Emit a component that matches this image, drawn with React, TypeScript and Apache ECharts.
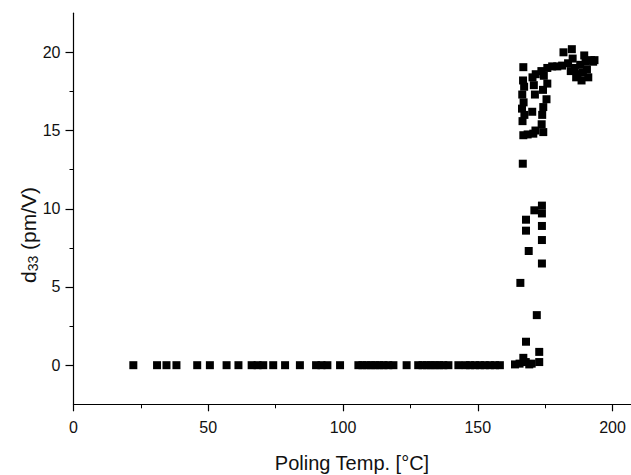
import React, { useEffect, useRef } from "react";
import * as echarts from "echarts";

// Poling temperature (°C) and d33 (pm/V)
const polingTemp: number[] = [
  22.2, 31.0, 34.5, 38.2, 45.9, 50.6, 56.8, 61.2, 66.1, 68.3, 70.4, 74.1, 78.5, 84.0,
  90.0, 92.0, 94.2, 98.9, 105.7, 107.2, 108.8, 110.4, 111.9, 113.5, 115.0, 116.8, 118.7,
  123.6, 127.9, 129.5, 131.1, 132.6, 134.1, 135.7, 137.2, 139.1, 142.8, 145.5, 147.1,
  149.0, 150.8, 152.6, 154.5, 156.4, 158.2,
  163.8, 165.5, 166.9, 167.8, 169.1, 170.0, 172.8, 172.8, 167.9, 171.9, 165.8, 173.8,
  168.9, 173.8, 167.9, 173.8, 167.9, 171.0, 173.8, 173.8, 166.7,
  166.9, 166.8, 167.2, 166.5, 167.0, 166.4, 167.3, 166.6, 166.9, 168.5,
  170.3, 171.5, 170.8, 171.2, 170.2, 171.4, 170.6,
  173.6, 174.5, 175.8, 174.2, 175.5, 174.3, 173.9, 173.7, 174.3,
  175.8, 177.6, 179.5, 181.3, 181.8, 184.9,
  183.5, 185.2, 186.0, 187.0, 188.0, 189.0, 190.0, 191.0, 192.0, 190.5, 186.5, 184.5,
  192.8, 188.5, 189.5, 193.3,
];
const d33Values: number[] = [
  0, 0, 0, 0, 0, 0, 0, 0, 0, 0, 0, 0, 0, 0,
  0, 0, 0, 0, 0, 0, 0, 0, 0, 0, 0, 0, 0,
  0, 0, 0, 0, 0, 0, 0, 0, 0, 0, 0, 0,
  0, 0, 0, 0, 0, 0,
  0.05, 0.1, 0.47, 0.2, 0.05, 0.1, 0.2, 0.85, 1.5, 3.2, 5.26, 6.5,
  7.3, 8.0, 8.6, 8.9, 9.3, 9.9, 9.7, 10.2, 12.88,
  19.05, 18.2, 17.8, 17.3, 16.8, 16.4, 16.0, 15.6, 14.7, 14.75,
  18.4, 18.6, 17.9, 17.3, 16.2, 15.0, 14.8,
  18.8, 18.5, 18.0, 17.6, 17.0, 16.5, 16.0, 15.4, 14.9,
  19.0, 19.1, 19.1, 19.15, 20.0, 20.2,
  19.3, 19.6, 19.0, 18.6, 19.2, 18.7, 19.4, 18.4, 19.5, 18.9, 18.4, 18.8,
  19.4, 18.2, 19.8, 19.5,
];
const xMajorTicks: number[] = [0, 50, 100, 150, 200];
const xMinorTicks: number[] = [25, 75, 125, 175];
const yMajorTicks: number[] = [0, 5, 10, 15, 20];
const yMinorTicks: number[] = [2.5, 7.5, 12.5, 17.5];

const FONT = "'Liberation Sans', Arial, Helvetica, sans-serif";

export default function App() {
  const ref = useRef<HTMLDivElement>(null);
  useEffect(() => {
    if (!ref.current) return;
    const chart = echarts.init(ref.current, undefined, { renderer: "svg" });
    const data = polingTemp.map((t, i) => [t, d33Values[i]]);
    const axisLineStyle = { color: "#000", width: 1.2 };
    const X_MAX = 206.85;
    chart.setOption({
      animation: false,
      backgroundColor: "#fff",
      grid: { left: 73.5, top: 13.2, right: 0, bottom: 70.7 },
      xAxis: [
        {
          type: "value",
          min: 0,
          max: X_MAX,
          axisLine: { show: true, onZero: false, lineStyle: axisLineStyle },
          axisTick: { show: true, length: 7, customValues: xMajorTicks, lineStyle: { color: "#000", width: 1.2 } },
          axisLabel: { customValues: xMajorTicks, margin: 15, fontSize: 16, color: "#111", fontFamily: FONT },
          splitLine: { show: false },
        },
        {
          type: "value",
          min: 0,
          max: X_MAX,
          position: "bottom",
          axisLine: { show: false, onZero: false },
          axisTick: { show: true, length: 4, customValues: xMinorTicks, lineStyle: { color: "#000", width: 1 } },
          axisLabel: { show: false },
          splitLine: { show: false },
        },
      ],
      yAxis: [
        {
          type: "value",
          min: -2.5,
          max: 22.5,
          axisLine: { show: true, onZero: false, lineStyle: axisLineStyle },
          axisTick: { show: true, length: 8, customValues: yMajorTicks, lineStyle: { color: "#000", width: 1.2 } },
          axisLabel: { customValues: yMajorTicks, margin: 13, fontSize: 16, color: "#111", fontFamily: FONT },
          splitLine: { show: false },
        },
        {
          type: "value",
          min: -2.5,
          max: 22.5,
          position: "left",
          axisLine: { show: false, onZero: false },
          axisTick: { show: true, length: 4, customValues: yMinorTicks, lineStyle: { color: "#000", width: 1 } },
          axisLabel: { show: false },
          splitLine: { show: false },
        },
      ],
      series: [
        {
          type: "scatter",
          xAxisIndex: 0,
          yAxisIndex: 0,
          symbol: "rect",
          symbolSize: 8,
          itemStyle: { color: "#000", opacity: 1 },
          data,
        },
      ],
      graphic: [
        {
          type: "text",
          x: 352,
          y: 463,
          style: {
            text: "Poling Temp. [°C]",
            font: `20px ${FONT}`,
            fill: "#111",
            align: "center",
            verticalAlign: "middle",
          },
        },
        {
          type: "text",
          x: 28,
          y: 235,
          rotation: Math.PI / 2,
          style: {
            text: "{d|d}{s|33}{d| (pm/V)}",
            fill: "#111",
            align: "center",
            verticalAlign: "middle",
            rich: {
              d: { fontSize: 21, fontFamily: FONT, fill: "#111" },
              s: { fontSize: 14, fontFamily: FONT, fill: "#111", verticalAlign: "bottom", padding: [9, 0, 0, 0] },
            },
          },
        },
      ],
    });
    return () => chart.dispose();
  }, []);
  return (
    <div
      ref={ref}
      style={{ position: "fixed", left: 0, top: 0, width: 631, height: 475, background: "#fff" }}
    />
  );
}
